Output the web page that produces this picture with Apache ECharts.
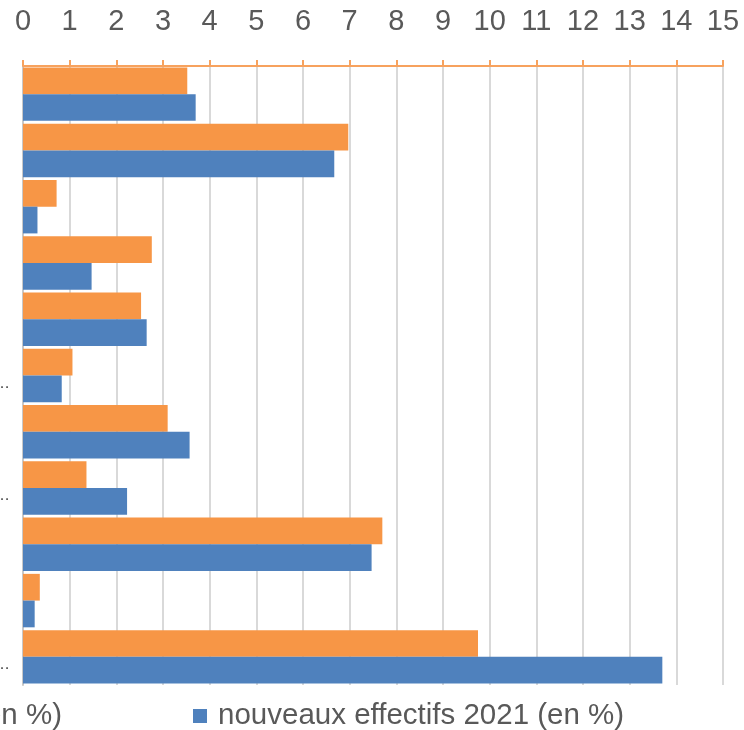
<!DOCTYPE html>
<html>
<head>
<meta charset="utf-8">
<script src="https://cdn.jsdelivr.net/npm/echarts@6/dist/echarts.min.js"></script>
<style>
  html, body { margin: 0; padding: 0; background: #fff; }
  #chart { width: 744px; height: 730px; }
</style>
</head>
<body>
<div id="chart"></div>
<script>
// category labels are cut off at the left edge, only the ellipsis shows
const categories = ['', '', '', '', '', '\u2026', '', '\u2026', '', '', '\u2026']
const orangeName = 'effectifs 2020 (en %)'
const blueName = 'nouveaux effectifs 2021 (en %)'
const orangeValues = [3.52, 6.97, 0.72, 2.76, 2.53, 1.06, 3.1, 1.36, 7.7, 0.36, 9.75]
const blueValues = [3.7, 6.67, 0.31, 1.47, 2.65, 0.83, 3.57, 2.23, 7.47, 0.25, 13.7]
const xTicks = [0, 15, 1]

const myChart = echarts.init(document.getElementById('chart'), null, { renderer: 'canvas' })

const font = '"Liberation Sans", Arial, sans-serif'

myChart.setOption({
  animation: false,
  backgroundColor: '#fff',
  grid: { left: 23, right: 21, top: 66, bottom: 45, containLabel: false, outerBoundsMode: 'none' },
  legend: [
    {
      data: [orangeName],
      right: 682,
      top: 701,
      padding: 0,
      itemWidth: 14,
      itemHeight: 14,
      icon: 'rect',
      textStyle: { fontFamily: font, fontSize: 29.5, color: '#595959', padding: [0, 0, 0, 6] }
    },
    {
      data: [blueName],
      left: 193,
      top: 701,
      padding: 0,
      itemWidth: 14,
      itemHeight: 14,
      icon: 'rect',
      textStyle: { fontFamily: font, fontSize: 29.5, color: '#595959', padding: [0, 0, 0, 6] }
    }
  ],
  xAxis: {
    type: 'value',
    position: 'top',
    min: xTicks[0],
    max: xTicks[1],
    interval: xTicks[2],
    axisLine: { show: true, lineStyle: { color: '#F7A25E', width: 2 } },
    axisTick: { show: true, length: 6, lineStyle: { color: '#F7A25E', width: 2 } },
    axisLabel: { fontFamily: font, fontSize: 29, color: '#595959', margin: 30 },
    splitLine: { show: true, lineStyle: { color: '#D9D9D9', width: 2 } }
  },
  yAxis: {
    type: 'category',
    inverse: true,
    data: categories,
    axisLine: { show: true, lineStyle: { color: '#C8C8C8', width: 2 } },
    axisTick: { show: false },
    axisLabel: { fontFamily: font, fontSize: 16, color: '#404040', margin: 13, verticalAlign: 'top', interval: 0 }
  },
  series: [
    {
      name: orangeName,
      type: 'bar',
      data: orangeValues,
      barGap: '0%',
      barCategoryGap: '5%',
      itemStyle: { color: '#F79646' }
    },
    {
      name: blueName,
      type: 'bar',
      data: blueValues,
      barGap: '0%',
      barCategoryGap: '5%',
      itemStyle: { color: '#4F81BD' }
    }
  ]
})
</script>
</body>
</html>
